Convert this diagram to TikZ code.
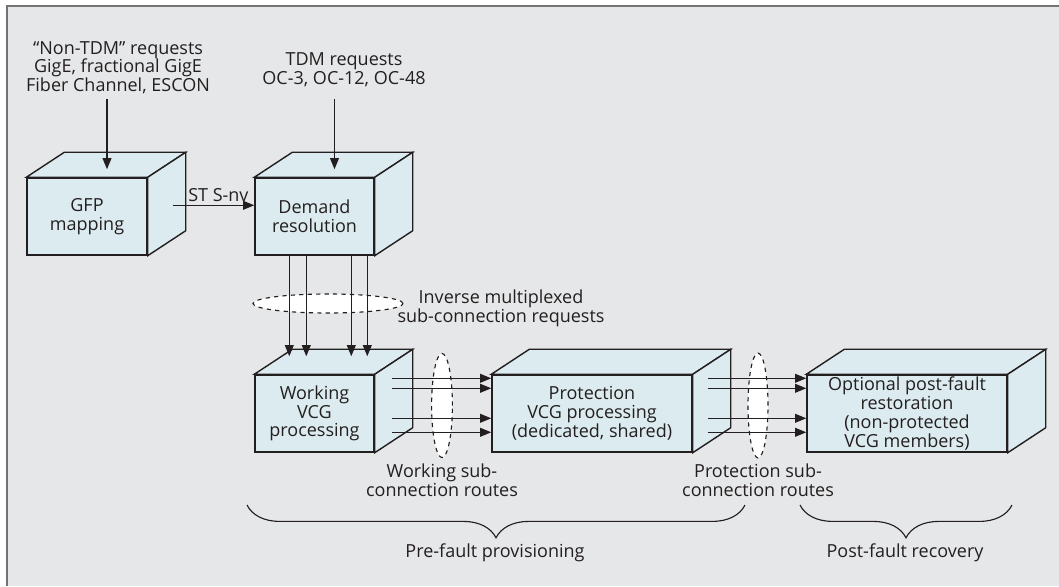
\documentclass[tikz,border=0pt]{standalone}
\usepackage{fontspec}
\setmainfont{Open Sans}
\usetikzlibrary{positioning}
\usetikzlibrary{calc, arrows.meta, shapes.geometric, decorations.pathreplacing}
\definecolor{bggray}{RGB}{230,231,232}
\definecolor{boxfill}{RGB}{220,235,239}
\definecolor{inkline}{RGB}{35,31,32}
\definecolor{framegray}{RGB}{115,115,115}
\newcommand{\diagfont}{\fontsize{12.8}{13.3}\selectfont}

\begin{document}
\begin{tikzpicture}[x=0.025cm,y=-0.025cm,
  box/.style={rectangle,draw=inkline,line width=1pt,fill=boxfill,align=center,
    minimum height=1.925cm,inner sep=0pt,font=\diagfont,text=inkline},
  face/.style={draw=inkline,line width=1pt,fill=boxfill},
  arr/.style={draw=inkline,line width=1pt,-{Triangle[length=0.28cm,width=0.22cm]}},
  lbl/.style={align=center,font=\diagfont,text=inkline},
  dashell/.style={ellipse,draw=inkline,dashed,line width=0.8pt,fill=white,inner sep=0pt},
  curly/.style={draw=inkline,line width=0.8pt,decorate,decoration={brace,mirror,amplitude=0.82cm}}]
\useasboundingbox (0,0) rectangle (1059,586);
\fill[white] (0,0) rectangle (1059,586);
\fill[bggray] (6,6) rectangle (1059,586);
\draw[framegray,line width=1.4pt] (7,586) -- (7,6) -- (1059,6);

% front faces
\node[box,minimum width=3cm] (gfp) at (87,216.5) {GFP\\mapping};
\node[box,minimum width=2.975cm] (dem) at (314.5,216.5) {Demand\\resolution};
\node[box,minimum width=2.975cm] (wrk) at (314.5,413.5) {Working\\VCG\\processing};
\node[box,minimum width=5cm] (prot) at (592,413.5) {Protection\\VCG processing\\(dedicated, shared)};
\node[box,minimum width=5cm] (opt) at (907,413.5) {Optional post-fault\\restoration\\(non-protected\\VCG members)};

% top and side faces
\foreach \b in {gfp,dem,wrk,prot,opt} {
  \draw[face] (\b.north west) -- ++(38,-25) -- ($(\b.north east)+(38,-25)$) -- (\b.north east) -- cycle;
  \draw[face] (\b.north east) -- ++(38,-25) -- ($(\b.south east)+(38,-25)$) -- (\b.south east) -- cycle;
}

% requests
\node[lbl] (ntdm) at (118,67.5) {“Non-TDM” requests\\GigE, fractional GigE\\Fiber Channel, ESCON};
\node[lbl] (tdm) at (344,69.5) {TDM requests\\OC-3, OC-12, OC-48};
\coordinate (gfptop) at ($(gfp.north)+(20,-8)$);
\coordinate (demtop) at ($(dem.north)+(20,-8)$);
\draw[arr] (gfptop |- ntdm.south) -- (gfptop);
\draw[arr] (demtop |- ntdm.south) -- (demtop);
\draw[arr] ($(gfp.north east)+(25,28)$) -- node[lbl,above=-1pt,pos=0.56] (stsnv) {ST S-nv} ($(dem.north west)+(0,28)$);

% groupings
\node[dashell,minimum width=3.75cm,minimum height=0.475cm] (hel) at (328,303.5) {};
\node[dashell,minimum width=0.52cm,minimum height=2.6cm] (wel) at (442,405.5) {};
\node[dashell,minimum width=0.5cm,minimum height=2.62cm] (pel) at (758,405.5) {};
\node[lbl] (invlbl) at (501,308) {Inverse multiplexed\\sub-connection requests};
\node[lbl,below=0.02cm of wel] (wlbl) {Working sub-\\connection routes};
\node[lbl,below=0.02cm of pel] (plbl) {Protection sub-\\connection routes};

% sub-connections
\foreach \dx in {35,52,97,113}
  \draw[arr] ($(dem.south west)+(\dx,0)$) -- ($(wrk.north west)+(\dx,-18)$);
\foreach \dy in {4,14,44,58} {
  \draw[arr] ($(wrk.north east)+(17,\dy)$) -- ($(prot.north west)+(0,\dy)$);
  \draw[arr] ($(prot.north east)+(15,\dy)$) -- ($(opt.north west)+(0,\dy)$);
}

% phases
\draw[curly] (247,505) -- (745,505);
\draw[curly] (800,505) -- (1012,505);
\node[lbl] (prefault) at (495,553) {Pre-fault provisioning};
\node[lbl] (postfault) at (905,553) {Post-fault recovery};

\end{tikzpicture}
\end{document}
